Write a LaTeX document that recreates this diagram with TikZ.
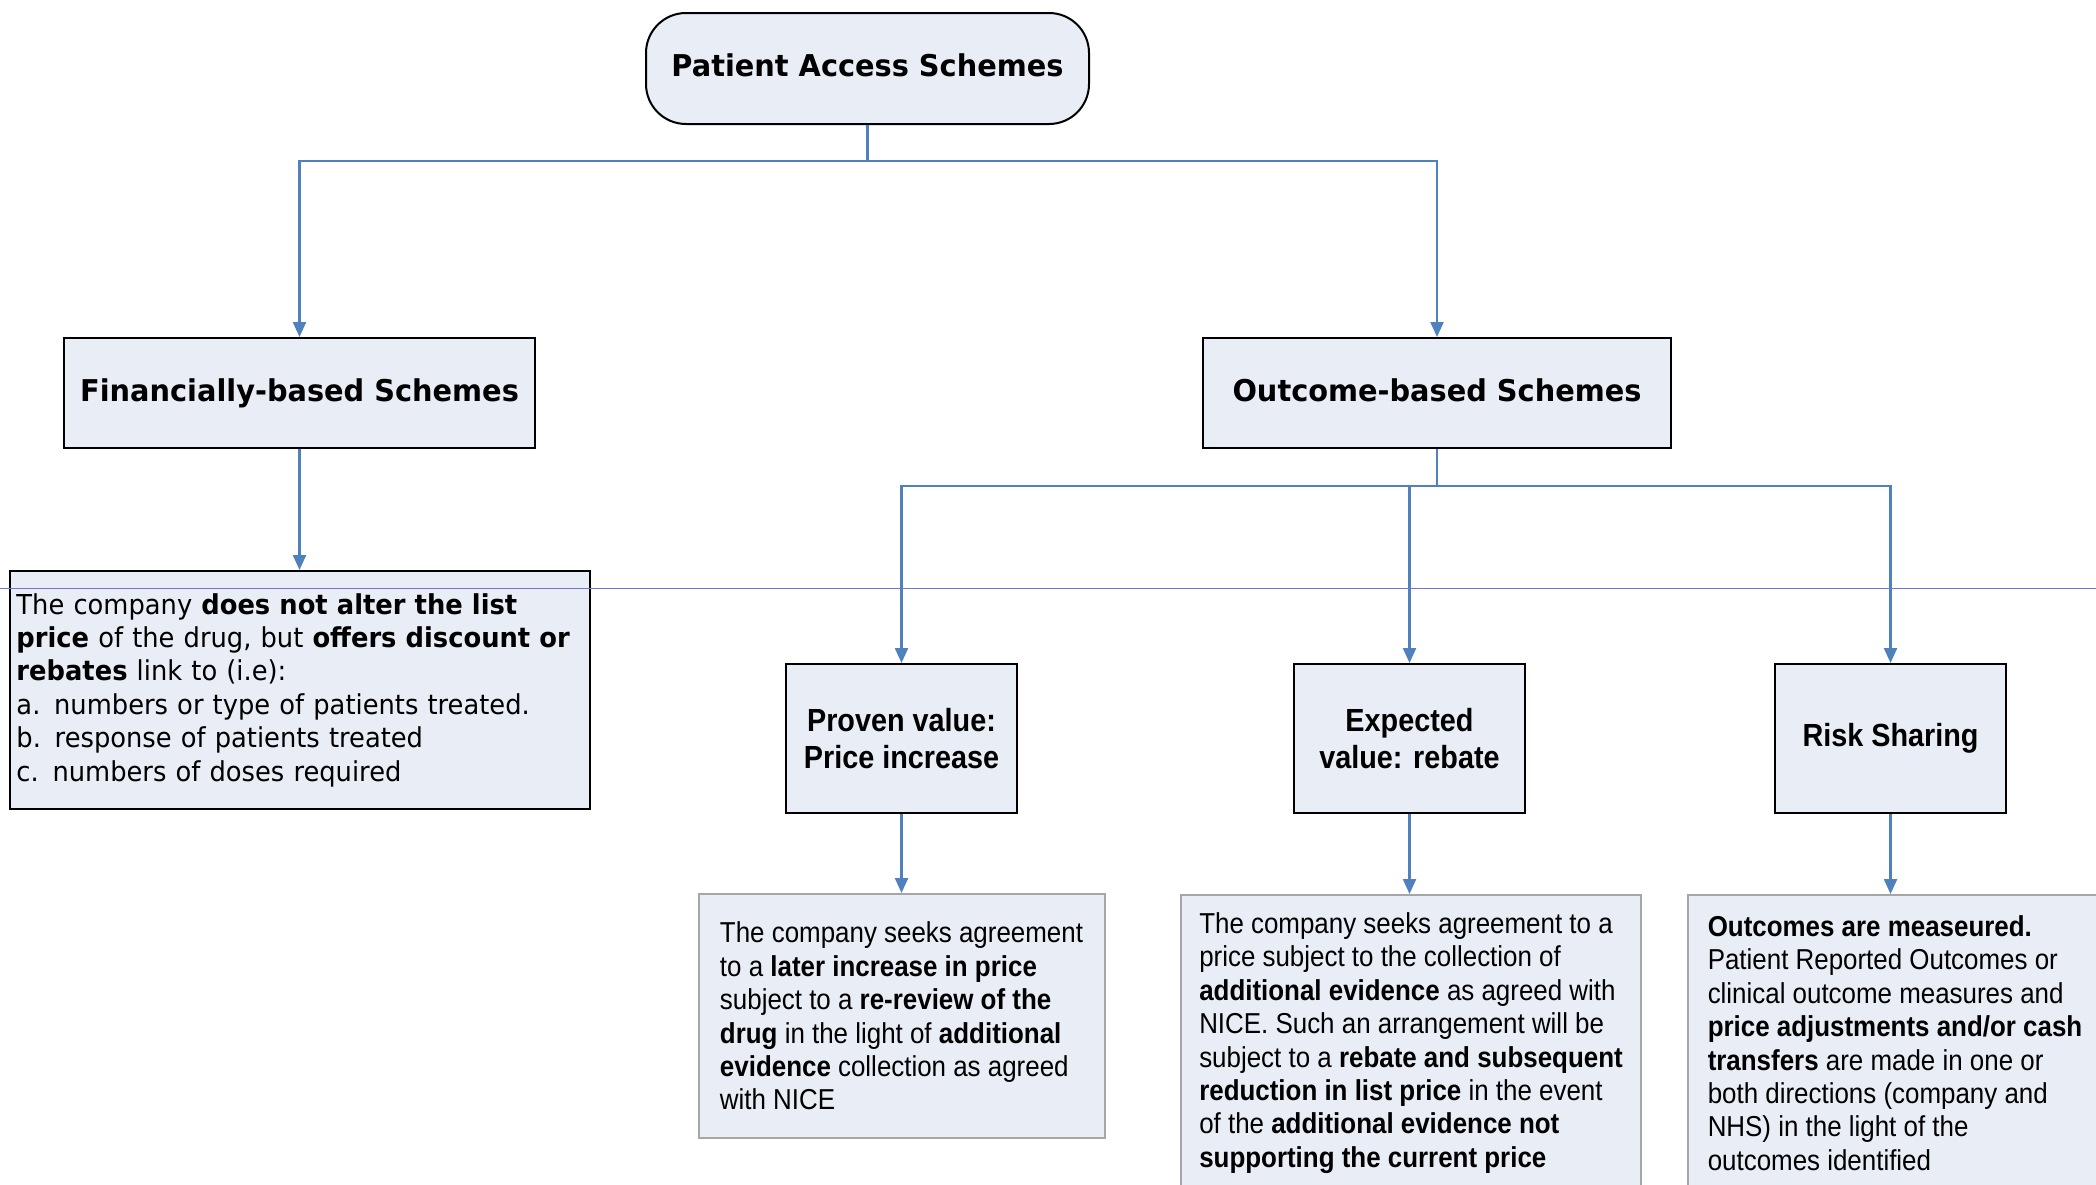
\documentclass[tikz,border=0pt]{standalone}
\usepackage{fontspec}
\setmainfont{Liberation Sans}
\newfontfamily\headfont{DejaVu Sans}[FakeStretch=0.96]
\newfontfamily\verdfont{DejaVu Sans}[FakeStretch=0.94]
\newfontfamily\arialfont{Liberation Sans}[FakeStretch=0.9]
\usepackage{tikz}
\usetikzlibrary{arrows.meta,shapes}

\definecolor{boxfill}{HTML}{E8EDF6}
\definecolor{linkblue}{HTML}{4F81BD}
\definecolor{notegrey}{HTML}{A6A6A6}
\definecolor{strayblue}{HTML}{7373DC}

\begin{document}
\begin{tikzpicture}[x=0.5pt, y=-0.5pt,
    head/.style={rectangle, draw=black, line width=1pt, fill=boxfill, align=center,
      text height=11pt, text depth=3pt,
      font=\headfont\bfseries\fontsize{15}{18}\selectfont},
    kind/.style={rectangle, draw=black, line width=1pt, fill=boxfill, align=center,
      minimum width=115.5pt, minimum height=74.5pt,
      font=\arialfont\bfseries\fontsize{16}{18.7}\selectfont},
    note/.style={rectangle, draw=notegrey, line width=1pt, fill=boxfill, align=left,
      font=\arialfont\fontsize{14.4}{16.7}\selectfont},
    link/.style={draw=linkblue, line width=1.1pt, -{Triangle[length=7.5pt, width=6.5pt]}}]

\path[use as bounding box, fill=white] (0,0) rectangle (2096,1184);

\node[head, rounded corners=20pt, minimum width=221.5pt, minimum height=55.5pt]
    (pas) at (867.5,68.5) {Patient Access Schemes};

\node[head, minimum width=235.5pt, minimum height=55pt]
    (fin) at (299.5,393) {Financially-based Schemes};

\node[head, minimum width=234pt, minimum height=55pt]
    (out) at (1437,393) {Outcome-based Schemes};
\draw[link] (pas.south) -- ++(0,36) -| (fin.north);
\draw[link] (pas.south) -- ++(0,36) -| (out.north);

\node[note, draw=black, text width=283pt, inner xsep=3.5pt, minimum height=119pt,
    font=\verdfont\fontsize{13.7}{16.7}\selectfont]
    (finnote) at (299.5,690) {The company \textbf{does not alter the list}\\
    \textbf{price} of the drug, but \textbf{offers discount or}\\
    \textbf{rebates} link to (i.e):\\
    a. numbers or type of patients treated.\\
    b. response of patients treated\\
    c. numbers of doses required};
\draw[link] (fin.south) -- (finnote.north);

\node[kind] (prov) at (901.5,738.5) {Proven value:\\Price increase};

\node[kind] (expv) at (1409.5,738.5) {Expected\\value: rebate};

\node[kind] (risk) at (1890.5,738.5) {Risk Sharing};
\draw[link] (out.south) -- ++(0,37) -| (prov.north);
\draw[link] (out.south) -- ++(0,37) -| (expv.north);
\draw[link] (out.south) -- ++(0,37) -| (risk.north);

\node[note, minimum width=203pt, minimum height=122pt]
    (provnote) at (901.5,1016) {The company seeks agreement\\
    to a \textbf{later increase in price}\\
    subject to a \textbf{re-review of the}\\
    \textbf{drug} in the light of \textbf{additional}\\
    \textbf{evidence} collection as agreed\\
    with NICE};
\draw[link] (prov.south) -- (provnote.north);

\node[note, minimum width=230pt, minimum height=148pt, anchor=north]
    (expnote) at (1411,894) {The company seeks agreement to a\\
    price subject to the collection of\\
    \textbf{additional evidence} as agreed with\\
    NICE. Such an arrangement will be\\
    subject to a \textbf{rebate and subsequent}\\
    \textbf{reduction in list price} in the event\\
    of the \textbf{additional evidence not}\\
    \textbf{supporting the current price}};
\draw[link] (expv.south) -- (expv.south |- expnote.north);

\node[note, minimum width=207pt, minimum height=148pt, anchor=north]
    (risknote) at (1895,894) {\textbf{Outcomes are measeured.}\\
    Patient Reported Outcomes or\\
    clinical outcome measures and\\
    \textbf{price adjustments and/or cash}\\
    \textbf{transfers} are made in one or\\
    both directions (company and\\
    NHS) in the light of the\\
    outcomes identified};
\draw[link] (risk.south) -- (risk.south |- risknote.north);

\draw[strayblue, line width=0.5pt] (0,588) -- (2096,588);

\end{tikzpicture}
\end{document}
